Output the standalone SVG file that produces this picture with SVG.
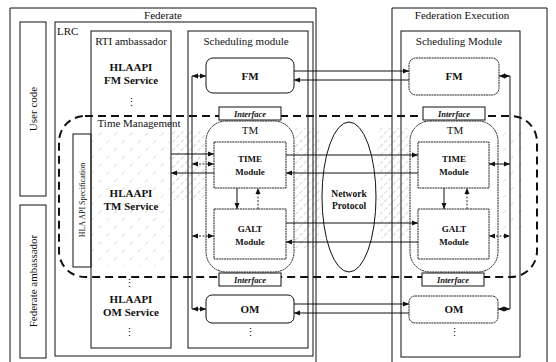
<svg xmlns="http://www.w3.org/2000/svg" width="556" height="362" viewBox="0 0 556 362" font-family="'Liberation Serif', 'DejaVu Serif', serif">
<defs>
<style>
text{font-family:'Liberation Serif','DejaVu Serif',serif;fill:#111;}
.t11{font-size:11px;text-anchor:middle;}
.b{font-weight:bold;}
.sm{font-size:9px;text-anchor:middle;font-weight:bold;}
.itf{font-size:8.5px;text-anchor:middle;font-weight:bold;font-style:italic;}
.box{fill:none;stroke:#111;stroke-width:1;}
.wbox{fill:#fff;stroke:#111;stroke-width:1;}
.mod{fill:none;stroke:#222;stroke-width:1;stroke-dasharray:2 0.6;}
.ln{stroke:#111;stroke-width:1;fill:none;}
.dl{stroke:#333;stroke-width:1;fill:none;stroke-dasharray:2 1.5;}
.arr{marker-end:url(#ah);}
.dbl{marker-start:url(#ah);marker-end:url(#ah);}
</style>
<marker id="ah" markerUnits="userSpaceOnUse" markerWidth="6" markerHeight="6" refX="6" refY="3" orient="auto-start-reverse"><path d="M0,0.5 L6,3 L0,5.5 z" fill="#111"/></marker>
<pattern id="hatch" width="6" height="6" patternUnits="userSpaceOnUse" patternTransform="rotate(45)"><line x1="0" y1="0" x2="0" y2="6" stroke="#444" stroke-width="0.8" stroke-dasharray="3 2"/></pattern>
<pattern id="hatch2" width="11" height="11" patternUnits="userSpaceOnUse" patternTransform="rotate(45)"><line x1="0" y1="0" x2="0" y2="11" stroke="#555" stroke-width="0.7" stroke-dasharray="4 7"/></pattern>
</defs>
<rect width="556" height="362" fill="#fff"/>

<!-- hatched shading -->
<g id="shading" opacity="0.55">
<rect x="92" y="131" width="78" height="135" fill="url(#hatch2)"/>
<rect x="171" y="130" width="35" height="70" fill="url(#hatch)"/>
<rect x="295" y="128" width="26" height="120" fill="url(#hatch)"/>
<rect x="378" y="128" width="31" height="110" fill="url(#hatch)"/>
<rect x="499" y="130" width="24" height="100" fill="url(#hatch2)"/>
</g>

<!-- containers -->
<g id="federate">
<path class="box" d="M10,362 V8 H316 V362"/>
<text class="t11" x="163" y="19">Federate</text>
</g>
<g id="lrc">
<rect class="box" x="55" y="22" width="258" height="334"/>
<text x="57" y="35" style="font-size:11px">LRC</text>
</g>
<g id="user-code">
<rect class="box" x="20" y="22" width="26" height="174"/>
<text class="t11" transform="translate(37,109) rotate(-90)">User code</text>
</g>
<g id="federate-ambassador">
<rect class="box" x="20" y="205" width="26" height="153"/>
<text class="t11" transform="translate(37,281) rotate(-90)">Federate ambassador</text>
</g>
<g id="rti-ambassador">
<rect class="box" x="91" y="31" width="80" height="317"/>
<text class="t11" x="131" y="45">RTI ambassador</text>
<text class="t11 b" x="131" y="71">HLAAPI</text>
<text class="t11 b" x="131" y="84">FM Service</text>
<text class="t11" x="131" y="106">⋮</text>
<text class="t11" x="139" y="127">Time Management</text>
<text class="t11 b" x="131" y="197">HLAAPI</text>
<text class="t11 b" x="131" y="210">TM Service</text>
<text class="t11" x="129" y="287">⋮</text>
<text class="t11 b" x="131" y="303">HLAAPI</text>
<text class="t11 b" x="131" y="316">OM Service</text>
<text class="t11" x="129" y="336">⋮</text>
</g>
<g id="hla-api-spec">
<rect class="box" x="73" y="134" width="18" height="133"/>
<text transform="translate(85,200) rotate(-90)" style="font-size:8px;text-anchor:middle">HLA API Specification</text>
</g>
<g id="scheduling-module-left">
<rect class="box" x="188" y="31" width="120" height="317"/>
<text class="t11" x="246" y="45">Scheduling module</text>
</g>
<g id="federation-execution">
<path class="box" d="M392,362 V8 H547 V362"/>
<text class="t11" x="462" y="19">Federation Execution</text>
</g>
<g id="scheduling-module-right">
<rect class="box" x="401" y="31" width="119" height="326"/>
<text class="t11" x="459" y="45">Scheduling Module</text>
</g>

<!-- time management dashed region -->
<g id="time-management-region">
<rect x="59" y="116" width="478" height="161" rx="26" ry="26" fill="none" stroke="#111" stroke-width="2" stroke-dasharray="8 5"/>
</g>

<!-- left modules -->
<g id="fm-left">
<rect class="box" x="206" y="58" width="88" height="35" rx="7"/>
<text class="t11 b" x="250" y="80">FM</text>
</g>
<g id="interface-left-top">
<rect class="wbox" x="219" y="107" width="62" height="13"/>
<text class="itf" x="250" y="117">Interface</text>
</g>
<g id="tm-left">
<rect class="mod" x="206" y="121" width="88" height="151" rx="20"/>
<text class="t11" x="250" y="134">TM</text>
</g>
<g id="time-left">
<rect class="mod" x="214" y="142" width="72" height="46"/>
<text class="sm" x="250" y="162">TIME</text>
<text class="sm" x="250" y="175">Module</text>
</g>
<g id="galt-left">
<rect class="mod" x="214" y="209" width="72" height="50"/>
<text class="sm" x="250" y="232">GALT</text>
<text class="sm" x="250" y="245">Module</text>
</g>
<g id="interface-left-bottom">
<rect class="wbox" x="219" y="273" width="62" height="13"/>
<text class="itf" x="250" y="283">Interface</text>
</g>
<g id="om-left">
<rect class="box" x="206" y="295" width="88" height="28" rx="6"/>
<text class="t11 b" x="250" y="313">OM</text>
<text class="t11" x="250" y="336">⋮</text>
</g>

<!-- network protocol -->
<g id="network-protocol">
<ellipse cx="349" cy="197" rx="27" ry="75" fill="#fff" fill-opacity="0.6" stroke="#111" stroke-width="1"/>
<text class="sm" x="349" y="197" style="font-size:9.5px">Network</text>
<text class="sm" x="349" y="209" style="font-size:9.5px">Protocol</text>
</g>

<!-- right modules -->
<g id="fm-right">
<rect class="mod" x="409" y="58" width="90" height="37" rx="7"/>
<text class="t11 b" x="454" y="80">FM</text>
</g>
<g id="interface-right-top">
<rect class="wbox" x="423" y="107" width="62" height="13"/>
<text class="itf" x="454" y="117">Interface</text>
</g>
<g id="tm-right">
<rect class="mod" x="410" y="121" width="88" height="151" rx="20"/>
<text class="t11" x="455" y="134">TM</text>
</g>
<g id="time-right">
<rect class="mod" x="418" y="142" width="71" height="46"/>
<text class="sm" x="454" y="162">TIME</text>
<text class="sm" x="454" y="175">Module</text>
</g>
<g id="galt-right">
<rect class="mod" x="418" y="209" width="71" height="50"/>
<text class="sm" x="454" y="232">GALT</text>
<text class="sm" x="454" y="245">Module</text>
</g>
<g id="interface-right-bottom">
<rect class="wbox" x="422" y="273" width="62" height="13"/>
<text class="itf" x="453" y="283">Interface</text>
</g>
<g id="om-right">
<rect class="mod" x="409" y="296" width="89" height="27" rx="6"/>
<text class="t11 b" x="454" y="313">OM</text>
<text class="t11" x="454" y="336">⋮</text>
</g>

<!-- connectors -->
<g id="connectors">
<line class="ln" x1="192" y1="76" x2="192" y2="309"/>
<line class="ln dbl" x1="192" y1="76" x2="206" y2="76"/>
<line class="dl dbl" x1="192" y1="236" x2="214" y2="236"/>
<line class="ln dbl" x1="192" y1="309" x2="206" y2="309"/>
<line class="ln arr" x1="171" y1="154" x2="214" y2="154"/>
<line class="dl dbl" x1="192" y1="164" x2="214" y2="164"/>
<line class="ln arr" x1="214" y1="173" x2="171" y2="173"/>
<line class="ln arr" x1="237" y1="188" x2="237" y2="209"/>
<line class="dl arr" x1="258" y1="209" x2="258" y2="188"/>
<line class="ln arr" x1="294" y1="71" x2="409" y2="71"/>
<line class="ln arr" x1="409" y1="80" x2="294" y2="80"/>
<line class="ln arr" x1="286" y1="155" x2="418" y2="155"/>
<line class="ln arr" x1="418" y1="173" x2="286" y2="173"/>
<line class="ln arr" x1="286" y1="223" x2="418" y2="223"/>
<line class="ln arr" x1="418" y1="242" x2="286" y2="242"/>
<line class="ln arr" x1="294" y1="304" x2="409" y2="304"/>
<line class="ln arr" x1="409" y1="313" x2="294" y2="313"/>
<line class="ln" x1="510" y1="76" x2="510" y2="309"/>
<line class="ln dbl" x1="499" y1="76" x2="510" y2="76"/>
<line class="ln dbl" x1="489" y1="164" x2="510" y2="164"/>
<line class="dl dbl" x1="489" y1="236" x2="510" y2="236"/>
<line class="ln dbl" x1="498" y1="309" x2="510" y2="309"/>
<line class="ln arr" x1="444" y1="188" x2="444" y2="209"/>
<line class="dl arr" x1="467" y1="209" x2="467" y2="188"/>
</g>
</svg>
